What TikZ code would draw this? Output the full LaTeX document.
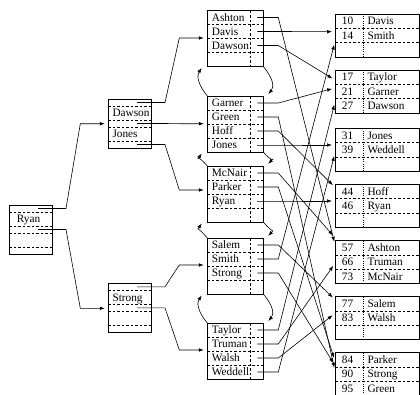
\documentclass[tikz,border=0pt]{standalone}
\usepackage{fontspec}
\setmainfont{Liberation Serif}
\usetikzlibrary{arrows.meta,positioning,calc}

\begin{document}
\begin{tikzpicture}[
    x=1pt, y=-1pt,
    >={Latex[length=5pt,width=3.6pt]},
    every node/.style={font=\fontsize{11.3}{13}\selectfont},
    nodebox/.style={
        rectangle,
        draw,
        line width=0.9pt,
        inner sep=0pt,
        outer sep=0pt,
        anchor=north west
    },
    idxbox/.style={nodebox, minimum width=43pt, minimum height=49pt},
    leafbox/.style={nodebox, minimum width=56pt, minimum height=56pt},
    blockbox/.style={nodebox, minimum width=84.5pt, minimum height=43pt},
    slotline/.style={line width=0.6pt, dash pattern=on 2.6pt off 1.9pt},
    splitline/.style={line width=0.6pt, dash pattern=on 0.7pt off 1.5pt},
    keytext/.style={anchor=base west, inner sep=0pt},
    numtext/.style={anchor=base, inner sep=0pt},
    ptr/.style={->, line width=0.6pt, shorten >=3.5pt}
]

\useasboundingbox (0,0) rectangle (420,394);

% Index nodes
\foreach \n/\x/\y in {root/9.3/205, dj/108.3/99, st/108.3/283.3} {
    \node[idxbox] (\n) at (\x,\y) {};
    \foreach \off in {7, 21, 28, 42}
        \draw[slotline] ($(\n.north west)+(0,\off)$) -- ++(43,0);
}

\node[keytext] (k-ryan)   at ($(root.north west)+(7.4,17.8)$) {Ryan};
\node[keytext] (k-dawson) at ($(dj.north west)+(4,17.8)$) {Dawson};
\node[keytext] (k-jones)  at ($(dj.north west)+(4,38.8)$) {Jones};
\node[keytext] (k-strong) at ($(st.north west)+(4,17.8)$) {Strong};

\foreach \n/\k in {root/0, root/1, dj/0, dj/1, dj/2, st/0, st/1}
    \coordinate (\n-p\k) at ($(\n.north west)+(28.7,3.5+21*\k)$);

% Leaf nodes
\foreach \n/\y in {l1/10.5, l2/96, l3/166, l4/238, l5/323} {
    \node[leafbox] (\n) at (207.3,\y) {};
    \foreach \off in {14, 28, 42}
        \draw[slotline] ($(\n.north west)+(0,\off)$) -- ++(56,0);
    \draw[slotline] ($(\n.north west)+(42.7,0)$) -- ++(0,56);
}

\foreach \name/\n/\row in {Ashton/l1/0, Davis/l1/1, Dawson/l1/2,
    Garner/l2/0, Green/l2/1, Hoff/l2/2, Jones/l2/3,
    McNair/l3/0, Parker/l3/1, Ryan/l3/2,
    Salem/l4/0, Smith/l4/1, Strong/l4/2,
    Taylor/l5/0, Truman/l5/1, Walsh/l5/2, Weddell/l5/3} {
    \node[keytext] (\name) at ($(\n.north west)+(4.4,10.8+14*\row)$) {\name};
    \coordinate (\name-p) at ($(\n.north west)+(50,7+14*\row)$);
}

% Tree pointers
\foreach \src/\dst/\off in {root-p0/dj/24.7, root-p1/st/25, dj-p0/l1/27.5,
    dj-p1/l2/27.7, dj-p2/l3/24, st-p0/l4/27, st-p1/l5/27} {
    \coordinate (\dst-in) at ($(\dst.north west)+(0,\off)$);
    \draw[ptr] (\src) -- ++(28,0) -- ($(\dst-in)+(-28,0)$) -- (\dst-in);
}

% Leaf chain
\foreach \a/\c in {l1/l2, l2/l3, l3/l4, l4/l5} {
    \draw[ptr, shorten >=0pt] (\a.south east) .. controls +(10,12) and +(6,-7) .. ($(\c.north east)+(5,-2)$);
    \draw[ptr, shorten >=0pt] (\c.north west) .. controls +(-10,-12) and +(-5,7) .. ($(\a.south west)+(-5.5,1.5)$);
}

% Record blocks
\foreach \blk/\y in {b1/14, b2/70, b3/128.3, b4/184.3, b5/240.7, b6/296.7, b7/352.7} {
    \node[blockbox] (\blk) at (335,\y) {};
    \foreach \off in {14.3, 28.6}
        \draw[slotline] ($(\blk.north west)+(0,\off)$) -- ++(84.5,0);
    \draw[splitline] ($(\blk.north west)+(28.3,0)$) -- ++(0,43);
}

\foreach \num/\name/\blk/\row in {10/Davis/b1/0, 14/Smith/b1/1,
    17/Taylor/b2/0, 21/Garner/b2/1, 27/Dawson/b2/2,
    31/Jones/b3/0, 39/Weddell/b3/1, 44/Hoff/b4/0, 46/Ryan/b4/1,
    57/Ashton/b5/0, 66/Truman/b5/1, 73/McNair/b5/2,
    77/Salem/b6/0, 83/Walsh/b6/1,
    84/Parker/b7/0, 90/Strong/b7/1, 95/Green/b7/2} {
    \node[numtext] (n\num) at ($(\blk.north west)+(12.5,10.95+14.3*\row)$) {\num};
    \node[keytext] (r\num) at ($(\blk.north west)+(32.3,10.95+14.3*\row)$) {\name};
}

% Record pointers
\foreach \name/\blk/\off in {Ashton/b5/4, Davis/b1/17.7, Dawson/b2/10,
    Garner/b2/18, Green/b7/18, Hoff/b4/3, Jones/b3/16.7, McNair/b5/-3,
    Parker/b7/8, Ryan/b4/16.7, Salem/b6/3, Smith/b1/27.7, Strong/b7/13,
    Taylor/b2/31.7, Truman/b5/22.6, Walsh/b6/16.6, Weddell/b3/24.7} {
    \coordinate (\name-at) at ($(\blk.north west)+(0,\off)$);
    \draw[ptr, shorten >=3pt] (\name-p) -- ++(21,0) -- (\name-at);
}

\end{tikzpicture}
\end{document}
